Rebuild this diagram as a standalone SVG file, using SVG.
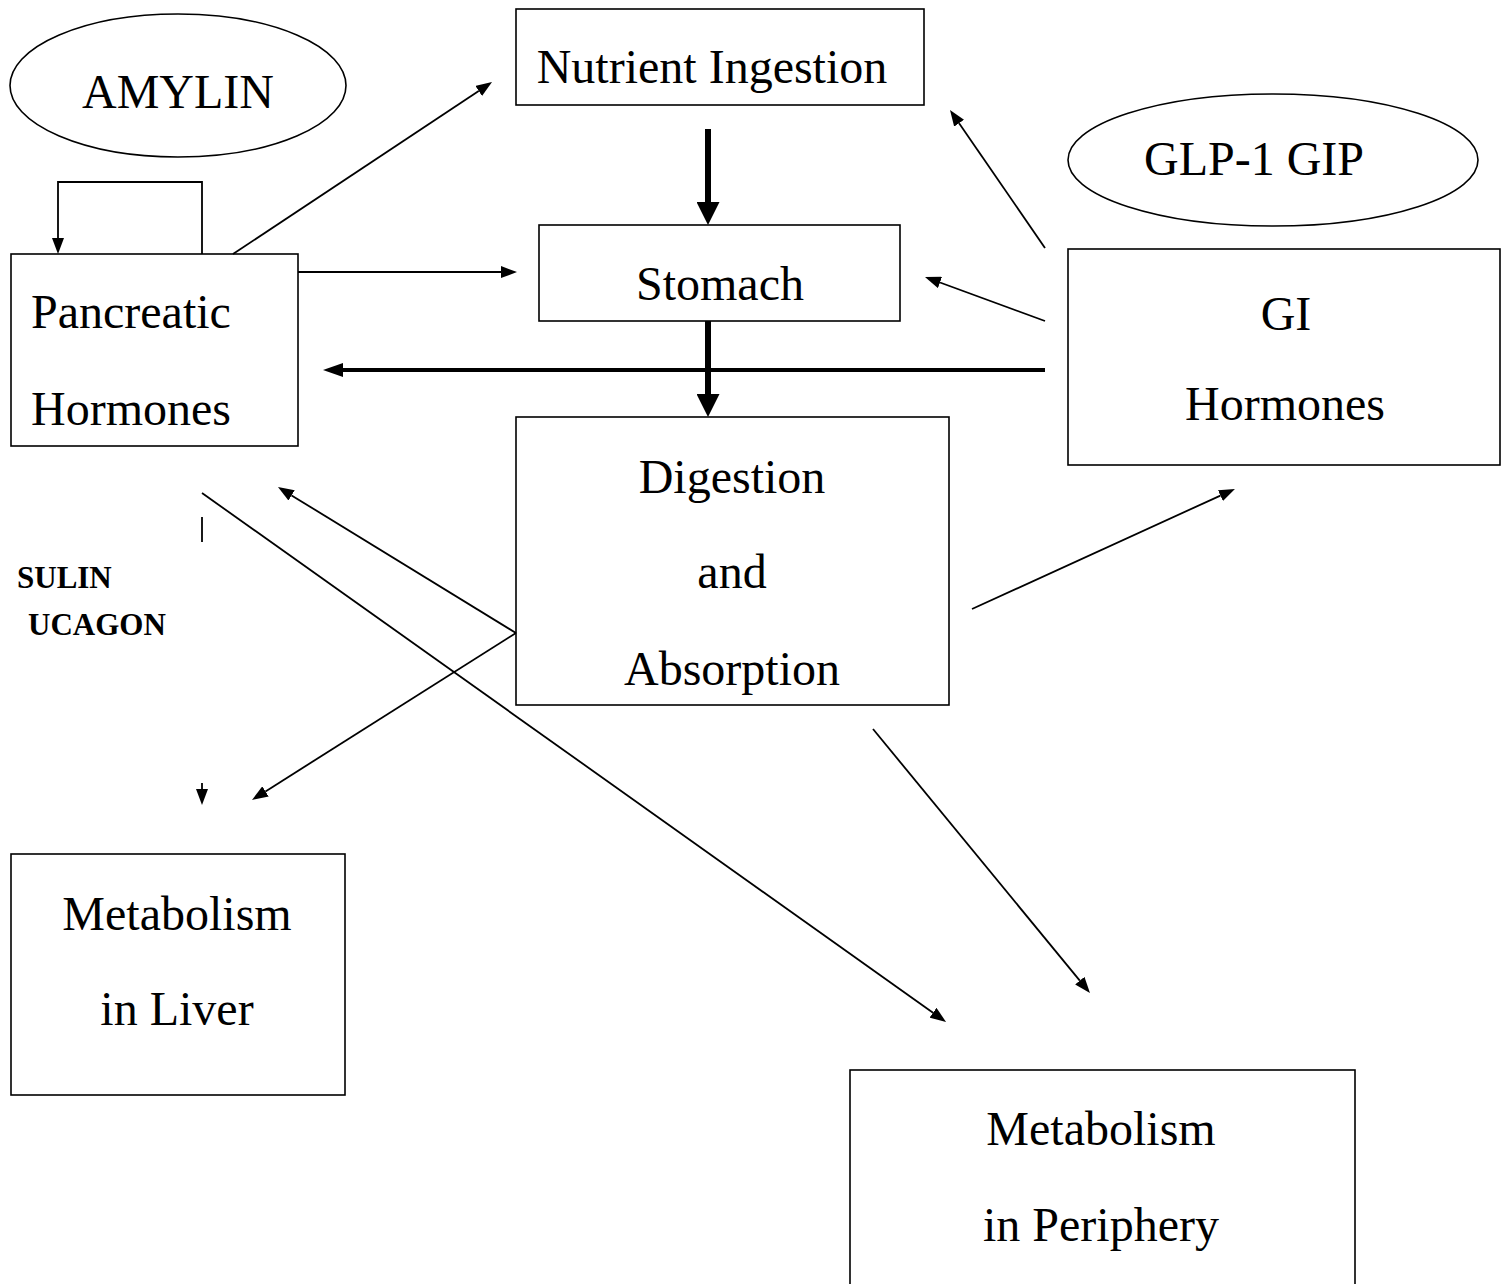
<svg xmlns="http://www.w3.org/2000/svg" width="1510" height="1284" viewBox="0 0 1510 1284">
<style>
.box{fill:#fff;stroke:#000;stroke-width:1.6}
.t{font-family:"Liberation Serif","Times New Roman",serif;font-size:48px;fill:#000}
.c{text-anchor:middle}
.b{font-family:"Liberation Serif","Times New Roman",serif;font-size:31px;font-weight:bold;fill:#000}
.ln{fill:none;stroke:#000;stroke-width:1.8}
.th{fill:none;stroke:#000;stroke-width:6}
.tm{fill:none;stroke:#000;stroke-width:4}
</style>
<defs>
<marker id="a" viewBox="0 0 16 12" refX="0" refY="6" markerWidth="16" markerHeight="12" markerUnits="userSpaceOnUse" orient="auto"><path d="M0,0 L16,6 L0,12 z" fill="#000"/></marker>
<marker id="ab" viewBox="0 0 23 23" refX="0" refY="11.5" markerWidth="23" markerHeight="23" markerUnits="userSpaceOnUse" orient="auto"><path d="M0,0 L23,11.5 L0,23 z" fill="#000"/></marker>
<marker id="am" viewBox="0 0 20 14" refX="0" refY="7" markerWidth="20" markerHeight="14" markerUnits="userSpaceOnUse" orient="auto"><path d="M0,0 L20,7 L0,14 z" fill="#000"/></marker>
</defs>
<rect width="1510" height="1284" fill="#fff"/>

<g id="amylin">
<ellipse cx="178" cy="85.5" rx="168" ry="71.5" class="box"/>
<text x="178" y="108" class="t c">AMYLIN</text>
</g>
<g id="glp">
<ellipse cx="1273" cy="160" rx="205" ry="66" class="box"/>
<text x="1254" y="175" class="t c">GLP-1 GIP</text>
</g>
<g id="nutrient">
<rect x="516" y="9" width="408" height="96" class="box"/>
<text x="712" y="83" class="t c">Nutrient Ingestion</text>
</g>
<g id="stomach">
<rect x="539" y="225" width="361" height="96" class="box"/>
<text x="720" y="300" class="t c">Stomach</text>
</g>
<g id="pancreatic">
<rect x="11" y="254" width="287" height="192" class="box"/>
<text x="31" y="328" class="t">Pancreatic</text>
<text x="31" y="425" class="t">Hormones</text>
</g>
<g id="gi">
<rect x="1068" y="249" width="432" height="216" class="box"/>
<text x="1286" y="330" class="t c">GI</text>
<text x="1285" y="420" class="t c">Hormones</text>
</g>
<g id="digestion">
<rect x="516" y="417" width="433" height="288" class="box"/>
<text x="732" y="493" class="t c">Digestion</text>
<text x="732" y="588" class="t c">and</text>
<text x="732" y="685" class="t c">Absorption</text>
</g>
<g id="liver">
<rect x="11" y="854" width="334" height="241" class="box"/>
<text x="177" y="930" class="t c">Metabolism</text>
<text x="177" y="1025" class="t c">in Liver</text>
</g>
<g id="periphery">
<rect x="850" y="1070" width="505" height="240" class="box"/>
<text x="1101" y="1145" class="t c">Metabolism</text>
<text x="1101" y="1241" class="t c">in Periphery</text>
</g>
<g id="labels">
<text x="17" y="588" class="b">SULIN</text>
<text x="28" y="635" class="b">UCAGON</text>
</g>

<g id="connectors">
<path d="M233,254 L478.7,90.9" class="ln" marker-end="url(#a)"/>
<path d="M298,272 L501,272" class="ln" marker-end="url(#a)"/>
<path d="M202,254 V182 H58 V238" class="ln" marker-end="url(#a)"/>
<path d="M1045,248 L959.1,123.2" class="ln" marker-end="url(#a)"/>
<path d="M1045,321 L940,282.5" class="ln" marker-end="url(#a)"/>
<path d="M516,633 L291.6,495.4" class="ln" marker-end="url(#a)"/>
<path d="M516,633 L265.5,791.4" class="ln" marker-end="url(#a)"/>
<path d="M202,783 L202,789" class="ln" marker-end="url(#a)"/>
<path d="M202,493 L933,1012.7" class="ln" marker-end="url(#a)"/>
<path d="M972,609 L1220.4,495.6" class="ln" marker-end="url(#a)"/>
<path d="M873,729 L1079.8,980.6" class="ln" marker-end="url(#a)"/>
<path d="M202,517 L202,542" class="ln"/>
<path d="M708,129 L708,202" class="th" marker-end="url(#ab)"/>
<path d="M708,321 L708,394" class="th" marker-end="url(#ab)"/>
<path d="M1045,370 L343,370" class="tm" marker-end="url(#am)"/>
</g>
</svg>
